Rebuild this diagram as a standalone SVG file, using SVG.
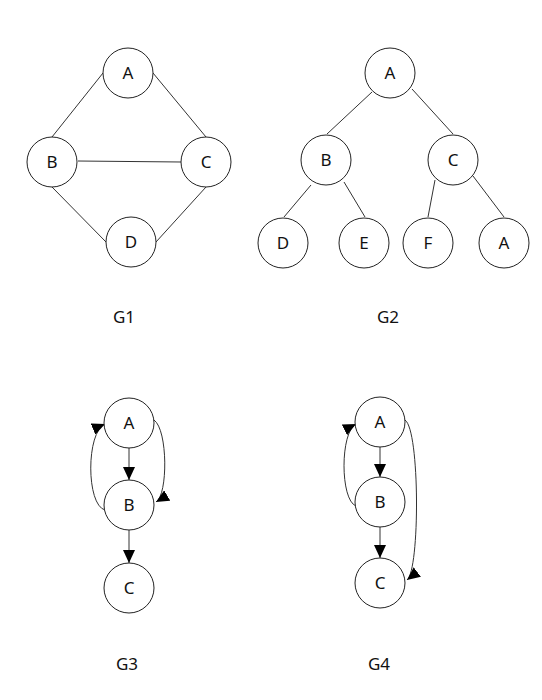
<svg xmlns="http://www.w3.org/2000/svg" width="542" height="700" viewBox="0 0 542 700">
<style>
.n circle{fill:#fff;stroke:#222;stroke-width:1}
.n text,.lbl{font-family:"Noto Sans","Open Sans",sans-serif;font-size:17px;fill:#111;text-anchor:middle;dominant-baseline:central}
.e line,.e path{stroke:#333;stroke-width:1;fill:none}
.a{marker-end:url(#ah)}
</style>
<defs>
<marker id="ah" markerUnits="userSpaceOnUse" markerWidth="13" markerHeight="12" refX="13" refY="6" orient="auto">
<path d="M0,0 L13,6 L0,12 z" fill="#000"/>
</marker>
</defs>
<rect width="542" height="700" fill="#fff"/>
<g id="connectors" class="e">
<!-- G1 -->
<line x1="103" y1="73" x2="52" y2="137"/>
<line x1="153" y1="73" x2="206" y2="137"/>
<line x1="78" y1="161" x2="181" y2="162"/>
<line x1="52" y1="187" x2="106" y2="242"/>
<line x1="206" y1="187" x2="156" y2="242"/>
<!-- G2 -->
<line x1="372" y1="92" x2="327" y2="134"/>
<line x1="412" y1="89" x2="453" y2="134"/>
<line x1="311" y1="185" x2="284" y2="217"/>
<line x1="344" y1="182" x2="365" y2="217"/>
<line x1="435" y1="180" x2="428" y2="217"/>
<line x1="473" y1="176" x2="504" y2="217"/>
<!-- G3 -->
<line class="a" x1="129" y1="448" x2="129" y2="480"/>
<line class="a" x1="129" y1="530" x2="129" y2="563"/>
<path class="a" d="M105,510 C86,505 86,432 105,424"/>
<path class="a" d="M154,420 C168,430 168,495 156,502"/>
<!-- G4 -->
<line class="a" x1="380" y1="447" x2="380" y2="477"/>
<line class="a" x1="380" y1="527" x2="380" y2="558"/>
<path class="a" d="M356,506 C340,500 340,432 356,424"/>
<path class="a" d="M405,420 C420,430 420,570 407,580"/>
</g>
<g id="g1-A" class="n"><circle cx="128" cy="73" r="25"/><text x="128" y="72">A</text></g>
<g id="g1-B" class="n"><circle cx="52" cy="162" r="25"/><text x="52" y="161">B</text></g>
<g id="g1-C" class="n"><circle cx="206" cy="162" r="25"/><text x="206" y="161">C</text></g>
<g id="g1-D" class="n"><circle cx="131" cy="242" r="25"/><text x="131" y="241">D</text></g>
<g id="g2-A" class="n"><circle cx="390" cy="73" r="25"/><text x="390" y="72">A</text></g>
<g id="g2-B" class="n"><circle cx="326" cy="160" r="25"/><text x="326" y="159">B</text></g>
<g id="g2-C" class="n"><circle cx="453" cy="160" r="25"/><text x="453" y="159">C</text></g>
<g id="g2-D" class="n"><circle cx="283" cy="243" r="25"/><text x="283" y="242">D</text></g>
<g id="g2-E" class="n"><circle cx="364" cy="243" r="25"/><text x="364" y="242">E</text></g>
<g id="g2-F" class="n"><circle cx="428" cy="243" r="25"/><text x="428" y="242">F</text></g>
<g id="g2-A2" class="n"><circle cx="504" cy="243" r="25"/><text x="504" y="242">A</text></g>
<g id="g3-A" class="n"><circle cx="129" cy="423" r="25"/><text x="129" y="422">A</text></g>
<g id="g3-B" class="n"><circle cx="129" cy="505" r="25"/><text x="129" y="504">B</text></g>
<g id="g3-C" class="n"><circle cx="129" cy="588" r="25"/><text x="129" y="587">C</text></g>
<g id="g4-A" class="n"><circle cx="380" cy="422" r="25"/><text x="380" y="421">A</text></g>
<g id="g4-B" class="n"><circle cx="380" cy="502" r="25"/><text x="380" y="501">B</text></g>
<g id="g4-C" class="n"><circle cx="380" cy="583" r="25"/><text x="380" y="582">C</text></g>
<g id="labels">
<text class="lbl" x="124" y="316">G1</text>
<text class="lbl" x="388" y="316">G2</text>
<text class="lbl" x="127" y="663">G3</text>
<text class="lbl" x="379" y="663">G4</text>
</g>
</svg>
